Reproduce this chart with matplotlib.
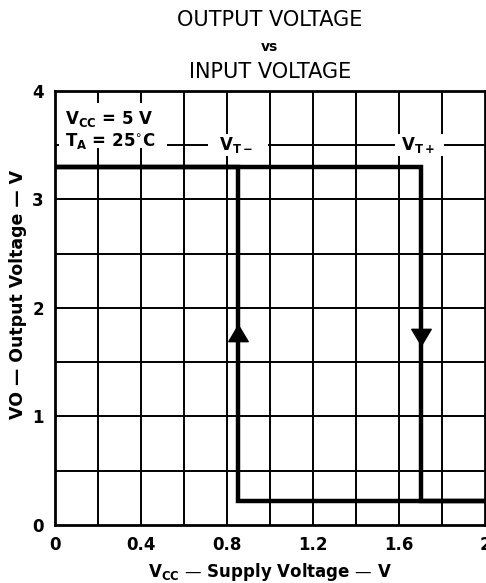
import matplotlib
matplotlib.use("Agg")
import matplotlib.pyplot as plt
from matplotlib.path import Path
from matplotlib.patches import Rectangle

plt.rcParams['font.family'] = ['DejaVu Sans']
plt.rcParams['mathtext.fontset'] = 'dejavusans'

# data
vt_minus = 0.85      # negative-going threshold, V
vt_plus = 1.70       # positive-going threshold, V
v_high = 3.30        # output high level, V
v_low = 0.22         # output low level, V
v_in_min = 0.0
v_in_max = 2.0
arrow_up_level = 1.77
arrow_down_level = 1.73

falling_x = [v_in_min, vt_plus, vt_plus, v_in_max]
falling_y = [v_high, v_high, v_low, v_low]
rising_x = [v_in_max, vt_minus, vt_minus, v_in_min]
rising_y = [v_low, v_low, v_high, v_high]

xticks = [0, 0.4, 0.8, 1.2, 1.6, 2]
xtick_labels = ['0', '0.4', '0.8', '1.2', '1.6', '2']
yticks = [0, 1, 2, 3, 4]
xgrid = [0.2, 0.4, 0.6, 0.8, 1.0, 1.2, 1.4, 1.6, 1.8]
ygrid = [0.5, 1.0, 1.5, 2.0, 2.5, 3.0, 3.5]

fig = plt.figure(figsize=(4.86, 5.83), dpi=100)
ax = fig.add_axes([0.113, 0.0995, 0.885, 0.745])
ax.set_xlim(0, 2)
ax.set_ylim(0, 4)

for x in xgrid:
    ax.axvline(x, color='black', lw=1.4, zorder=1)
for y in ygrid:
    ax.axhline(y, color='black', lw=1.4, zorder=1)

ax.plot(falling_x, falling_y, color='black', lw=3.2, zorder=3, solid_joinstyle='miter')
ax.plot(rising_x, rising_y, color='black', lw=3.2, zorder=3, solid_joinstyle='miter')

tri_up = Path([(-0.5, -0.42), (0.5, -0.42), (0, 0.42), (-0.5, -0.42)],
              [Path.MOVETO, Path.LINETO, Path.LINETO, Path.CLOSEPOLY])
tri_down = Path([(-0.5, 0.42), (0.5, 0.42), (0, -0.42), (-0.5, 0.42)],
                [Path.MOVETO, Path.LINETO, Path.LINETO, Path.CLOSEPOLY])
ax.plot([vt_minus], [arrow_up_level], marker=tri_up, markersize=14, color='black', zorder=4)
ax.plot([vt_plus], [arrow_down_level], marker=tri_down, markersize=14, color='black', zorder=4)

# condition box
ax.add_patch(Rectangle((0.02, 3.47), 0.5, 0.42, facecolor='white', edgecolor='none', zorder=2))
ax.text(0.045, 3.74, r'V$_{\mathbf{CC}}$ = 5 V', fontsize=12, fontweight='bold',
        va='center', ha='left', zorder=5)
ax.text(0.045, 3.54, r'T$_{\mathbf{A}}$ = 25$^{\circ}$C', fontsize=12, fontweight='bold',
        va='center', ha='left', zorder=5)

# threshold labels
ax.add_patch(Rectangle((0.71, 3.40), 0.28, 0.2, facecolor='white', edgecolor='none', zorder=2))
ax.text(0.84, 3.5, r'V$_{\mathbf{T-}}$', fontsize=12, fontweight='bold',
        va='center', ha='center', zorder=5)
ax.add_patch(Rectangle((1.58, 3.40), 0.23, 0.2, facecolor='white', edgecolor='none', zorder=2))
ax.text(1.69, 3.5, r'V$_{\mathbf{T+}}$', fontsize=12, fontweight='bold',
        va='center', ha='center', zorder=5)

ax.set_xticks(xticks)
ax.set_xticklabels(xtick_labels)
ax.set_yticks(yticks)
ax.tick_params(length=0, labelsize=12, pad=8)
for lab in ax.get_xticklabels() + ax.get_yticklabels():
    lab.set_fontweight('bold')
for s in ax.spines.values():
    s.set_linewidth(2.0)

ax.set_xlabel('V$_{\\mathbf{CC}}$ \u2014 Supply Voltage \u2014 V', fontsize=12,
              fontweight='bold', labelpad=5)
ax.set_ylabel('VO \u2014 Output Voltage \u2014 V', fontsize=12.5, fontweight='bold')
ax.yaxis.set_label_coords(-0.065, 0.53)

fig.text(0.555, 0.965, 'OUTPUT VOLTAGE', ha='center', va='center', fontsize=15)
fig.text(0.555, 0.92, 'vs', ha='center', va='center', fontsize=10, fontweight='bold')
fig.text(0.555, 0.877, 'INPUT VOLTAGE', ha='center', va='center', fontsize=15)

fig.savefig('out.png', dpi=100)
